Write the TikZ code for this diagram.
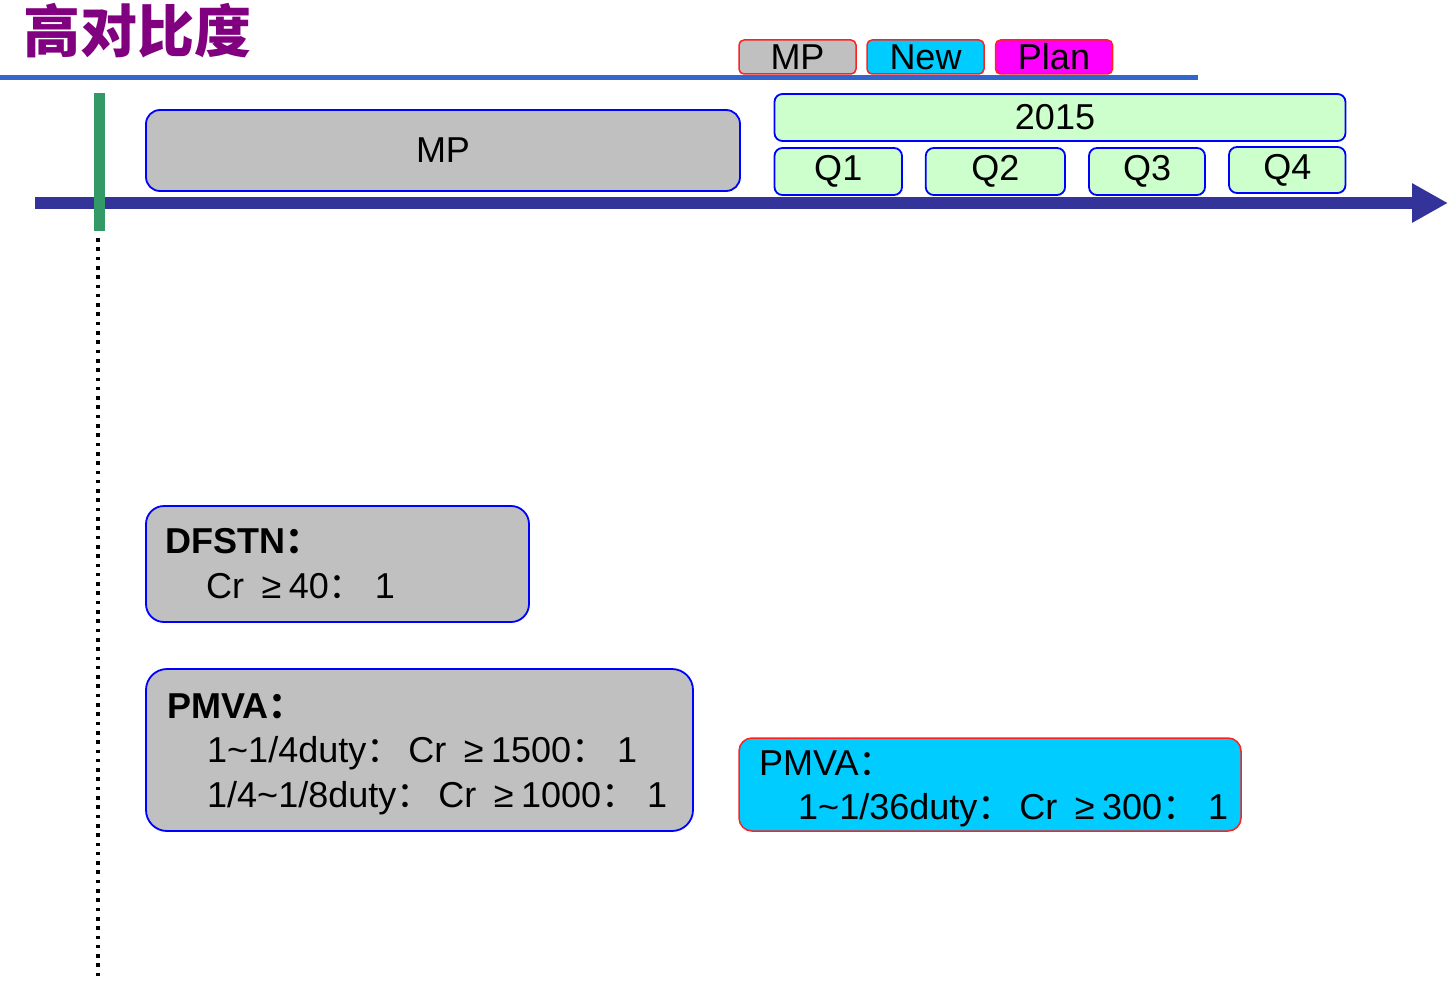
\documentclass[tikz,border=0pt]{standalone}
\usepackage{fontspec}
\setmainfont{Liberation Sans}
\newfontfamily\cjk{Noto Sans CJK SC}
\usetikzlibrary{arrows.meta}
\definecolor{ttl}{HTML}{800080}
\definecolor{topline}{HTML}{3366CC}
\definecolor{axisc}{HTML}{333399}
\definecolor{grn}{HTML}{339966}
\definecolor{gry}{HTML}{C0C0C0}
\definecolor{cyn}{HTML}{00CCFF}
\definecolor{mag}{HTML}{FF00FF}
\definecolor{lgreen}{HTML}{CCFFCC}
\definecolor{bord}{HTML}{0000FF}
\definecolor{rbord}{HTML}{FF2020}
\newcommand\gq{\hspace{0.208em}≥\hspace{0.208em}}
\newcommand\cc{{\cjk ：}}
\newcommand\ccw{{\cjk ：}\hspace{6pt}}
\tikzset{
  big/.style={font=\fontsize{36}{44}\selectfont},
  bluebox/.style={draw=bord, line width=1.8pt, inner sep=0pt, big},
  legbox/.style={draw=rbord, line width=1.5pt, rounded corners=5pt, inner sep=0pt,
     minimum width=117pt, minimum height=34pt, big},
  qbox/.style={bluebox, fill=lgreen, rounded corners=8pt, minimum height=47pt},
  txt/.style={anchor=base west, inner sep=0pt, big},
}
\begin{document}
\begin{tikzpicture}[x=1pt,y=-1pt]
\useasboundingbox (0,0) rectangle (1456,987);
% title
\node[anchor=base west, inner sep=0pt, text=ttl, font={\fontsize{57}{60}\selectfont\cjk\bfseries}] (title) at (23,53) {高对比度};
% top rule
\coordinate (tl1) at (0,78);
\coordinate (tl2) at (1198,78);
\draw[topline, line width=5pt] (tl1) -- (tl2);
% legend
\node[legbox, fill=gry] (legmp) at (797.5,57) {MP};
\node[legbox, fill=cyn] (legnew) at (925.5,57) {New};
\node[legbox, fill=mag] (legplan) at (1054,57) {Plan};
% time axis
\coordinate (axs) at (35,203);
\coordinate (axe) at (1448,203);
\draw[axisc, line width=12pt, -{Triangle[length=36pt,width=37pt]}] (axs) -- (axe);
% green marker
\fill[grn] (94,93) rectangle (105,231);
\coordinate (d1) at (98,238);
\coordinate (d2) at (98,980);
\draw[line width=3.6pt, dash pattern=on 3.6pt off 5.7pt] (d1) -- (d2);
% MP bar
\node[bluebox, fill=gry, rounded corners=14pt, minimum width=594pt, minimum height=81pt] (mp) at (443,150.5) {MP};
% 2015 and quarters
\node[qbox, minimum width=571pt] (y2015) at (1060,117.5) {\hspace*{-10pt}2015};
\node[qbox, minimum width=127.5pt] (q1) at (838.25,171.5) {Q1};
\node[qbox, minimum width=139.3pt] (q2) at (995.4,171.5) {Q2};
\node[qbox, minimum width=116pt] (q3) at (1147,171.5) {Q3};
\node[qbox, minimum width=116.5pt, minimum height=46pt] (q4) at (1287.25,170) {Q4};
% DFSTN box
\node[bluebox, fill=gry, rounded corners=18pt, minimum width=383pt, minimum height=116pt] (dfstn) at (337.5,564) {};
\node[txt, font={\fontsize{36}{44}\selectfont\bfseries}] (dfstn1) at (165.5,553) {DFSTN\cc};
\node[txt] (dfstn2) at (206,598) {Cr \gq{}40\cc{} 1};
% PMVA gray box
\node[bluebox, fill=gry, rounded corners=21pt, minimum width=547pt, minimum height=162pt] (pmva) at (419.5,750) {};
\node[txt, font={\fontsize{36}{44}\selectfont\bfseries}] (pmva1) at (167,718) {PMVA\cc};
\node[txt] (pmva2) at (207,762) {1\textasciitilde 1/4duty\ccw Cr \gq{}1500\cc{} 1};
\node[txt] (pmva3) at (207,807) {1/4\textasciitilde 1/8duty\ccw Cr \gq{}1000\cc{} 1};
% PMVA new box
\node[draw=rbord, line width=1.5pt, fill=cyn, rounded corners=13pt, minimum width=502pt, minimum height=93pt, inner sep=0pt] (pnew) at (990,784.5) {};
\node[txt] (pnew1) at (759,775) {PMVA\cc};
\node[txt] (pnew2) at (798,819) {1\textasciitilde 1/36duty\ccw Cr \gq{}300\cc{} 1};
\end{tikzpicture}
\end{document}
